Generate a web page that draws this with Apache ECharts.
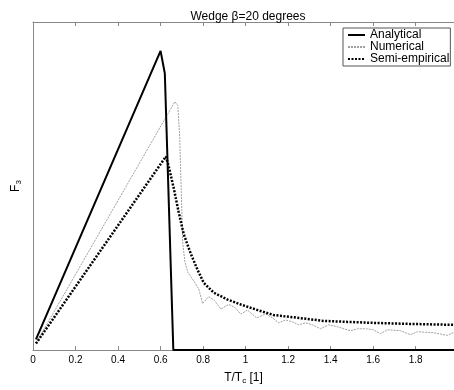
<!DOCTYPE html>
<html><head><meta charset="utf-8">
<script src="https://cdn.jsdelivr.net/npm/echarts@6/dist/echarts.min.js"></script>
<style>html,body{margin:0;padding:0;background:#fff}#c{width:454px;height:390px}</style>
</head><body><div id="c"></div>
<script>
const xTicks = [0, 0.2, 0.4, 0.6, 0.8, 1, 1.2, 1.4, 1.6, 1.8];
const analyticalX = [0.014, 0.60, 0.62, 0.66, 1.98];
const analyticalY = [0.033, 0.912, 0.843, 0.0, 0.0];
const numericalX = [0.014,0.667,0.681,0.690,0.695,0.700,0.704,0.714,0.728,0.756,0.779,0.798,0.826,0.854,0.883,0.920,0.948,0.977,1.009,1.052,1.094,1.127,1.155,1.188,1.221,1.249,1.282,1.315,1.352,1.390,1.432,1.493,1.526,1.568,1.601,1.634,1.667,1.728,1.775,1.808,1.883,1.948,1.977];
const numericalY = [0.021,0.757,0.745,0.650,0.531,0.427,0.329,0.270,0.237,0.211,0.187,0.142,0.163,0.151,0.125,0.139,0.131,0.110,0.122,0.098,0.110,0.098,0.083,0.092,0.086,0.077,0.083,0.077,0.065,0.077,0.071,0.059,0.065,0.065,0.062,0.050,0.062,0.059,0.047,0.056,0.053,0.045,0.053];
const semiX = [0.014,0.625,0.638,0.662,0.685,0.709,0.742,0.775,0.803,0.850,0.915,0.977,1.056,1.131,1.211,1.291,1.366,1.479,1.601,1.761,1.977];
const semiY = [0.020,0.590,0.561,0.493,0.421,0.353,0.294,0.243,0.205,0.175,0.154,0.139,0.122,0.107,0.101,0.095,0.089,0.086,0.083,0.080,0.077];

const zip = (a, b) => a.map((v, i) => [v, b[i]]);
const FONT = 'Liberation Sans, Arial, sans-serif';
const chart = echarts.init(document.getElementById('c'));
const fmt = v => {
  const r = Math.round(v * 10) / 10;
  return xTicks.some(t => Math.abs(t - r) < 1e-6) && Math.abs(v - r) < 1e-6 ? String(r) : '';
};
chart.setOption({
  animation: false,
  backgroundColor: '#fff',
  title: {
    text: 'Wedge β=20 degrees', left: 243, top: 6, textAlign: 'center',
    textStyle: { fontFamily: FONT, fontSize: 12, fontWeight: 'normal', color: '#000' }
  },
  grid: { left: 32, right: 0, top: 22, bottom: 31 },
  legend: {
    orient: 'vertical', left: 343, top: 28, width: 106,
    itemGap: 0, itemWidth: 17, itemHeight: 13,
    padding: [1, 1, 1, 4],
    borderColor: '#555', borderWidth: 1, backgroundColor: '#fff',
    itemStyle: { opacity: 0 },
    textStyle: { fontFamily: FONT, fontSize: 12, color: '#000', padding: [0, 0, 0, 0] },
    data: ['Analytical', 'Numerical', 'Semi-empirical']
  },
  xAxis: [{
    type: 'value', min: 0, max: 1.98, interval: 0.2, position: 'bottom',
    axisLine: { lineStyle: { color: '#888' } },
    axisTick: { inside: true, length: 4, lineStyle: { color: '#888' } },
    axisLabel: { showMaxLabel: false, formatter: fmt, color: '#000', fontFamily: FONT, fontSize: 10, margin: 5 },
    splitLine: { show: false },
    name: '{n|T/T}{s|c}{n| [1]}', nameLocation: 'middle', nameGap: 14,
    nameTextStyle: { rich: {
      n: { fontFamily: FONT, fontSize: 12, color: '#000', lineHeight: 15 },
      s: { fontFamily: FONT, fontSize: 8, color: '#000', lineHeight: 15, padding: [7, 0, 0, 0] }
    } }
  }, {
    type: 'value', min: 0, max: 1.98, interval: 0.2, position: 'top',
    axisLine: { lineStyle: { color: '#888' } },
    axisTick: { inside: true, length: 4, lineStyle: { color: '#888' } },
    axisLabel: { show: false }, splitLine: { show: false }
  }],
  yAxis: {
    type: 'value', min: 0, max: 1,
    axisLine: { show: true, lineStyle: { color: '#888' } },
    axisTick: { show: false }, axisLabel: { show: false }, splitLine: { show: false },
    name: '{n|F}{s|3}', nameLocation: 'middle', nameGap: 10, nameRotate: 90,
    nameTextStyle: { rich: {
      n: { fontFamily: FONT, fontSize: 12, color: '#000', lineHeight: 15 },
      s: { fontFamily: FONT, fontSize: 8, color: '#000', lineHeight: 15, padding: [7, 0, 0, 0] }
    } }
  },
  series: [
    { name: 'Numerical', type: 'line', data: zip(numericalX, numericalY), symbol: 'none', z: 2,
      lineStyle: { color: '#a0a0a0', width: 1, type: [2, 1] }, itemStyle: { color: '#a0a0a0' } },
    { name: 'Semi-empirical', type: 'line', data: zip(semiX, semiY), symbol: 'none', z: 3,
      lineStyle: { color: '#000', width: 2.5, type: [2, 1.5] }, itemStyle: { color: '#000' } },
    { name: 'Analytical', type: 'line', data: zip(analyticalX, analyticalY), symbol: 'none', z: 4,
      lineStyle: { color: '#000', width: 2 }, itemStyle: { color: '#000' } }
  ]
});
</script></body></html>
